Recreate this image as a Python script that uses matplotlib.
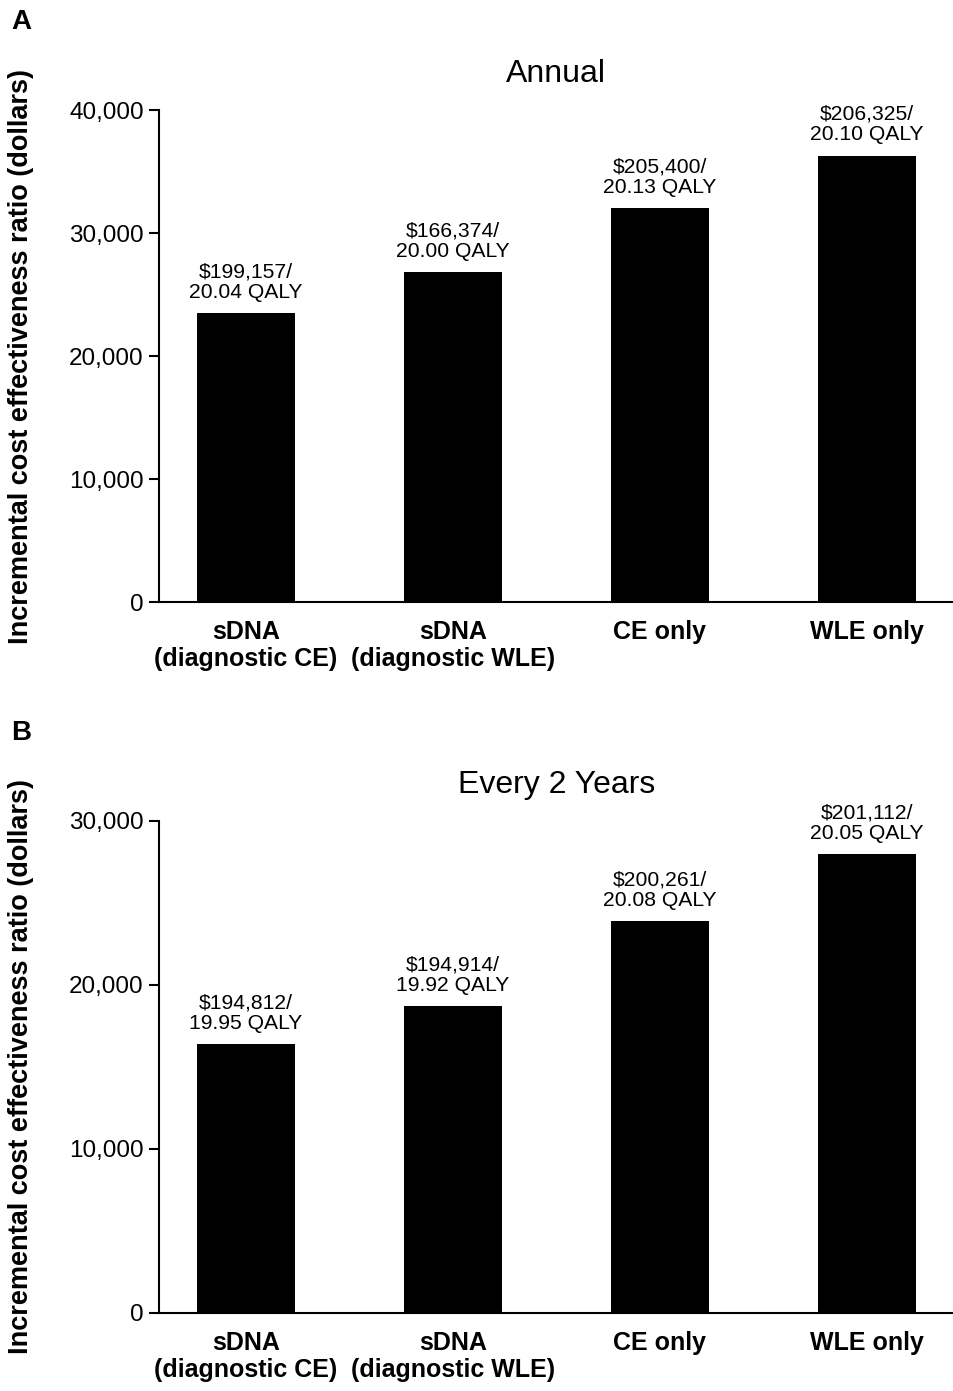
import matplotlib
matplotlib.use("Agg")
import matplotlib.pyplot as plt
from matplotlib.ticker import FuncFormatter

plt.rcParams["font.family"] = ["Liberation Sans", "DejaVu Sans"]

# data
categories = ["sDNA\n(diagnostic CE)", "sDNA\n(diagnostic WLE)", "CE only", "WLE only"]

annual_icer = [23500, 26800, 32000, 36300]
annual_labels = ["$199,157/\n20.04 QALY", "$166,374/\n20.00 QALY",
                 "$205,400/\n20.13 QALY", "$206,325/\n20.10 QALY"]

biennial_icer = [16400, 18700, 23900, 28000]
biennial_labels = ["$194,812/\n19.95 QALY", "$194,914/\n19.92 QALY",
                   "$200,261/\n20.08 QALY", "$201,112/\n20.05 QALY"]

W, H = 954, 1391
fig = plt.figure(figsize=(W / 100, H / 100), dpi=100, facecolor="white")


def panel(rect, values, labels, ymax, step, title, letter, letter_y):
    ax = fig.add_axes(rect)
    x = list(range(len(categories)))
    bars = ax.bar(x, values, width=0.475, color="black")
    for bar, lab in zip(bars, labels):
        ax.annotate(lab, (bar.get_x() + bar.get_width() / 2, bar.get_height()),
                    xytext=(0, 8), textcoords="offset points",
                    ha="center", va="bottom", fontsize=15.2, linespacing=1.1)
    ax.set_xlim(-0.42, 3.42)
    ax.set_ylim(0, ymax)
    ax.set_yticks(range(0, ymax + 1, step))
    ax.yaxis.set_major_formatter(FuncFormatter(lambda v, p: f"{int(v):,}"))
    ax.set_xticks(x)
    ax.set_xticklabels(categories, fontsize=18, fontweight="bold", linespacing=1.15)
    ax.tick_params(axis="x", length=0, pad=13)
    ax.tick_params(axis="y", length=7, width=1.5, labelsize=17.5, pad=4)
    for s in ("top", "right"):
        ax.spines[s].set_visible(False)
    for s in ("left", "bottom"):
        ax.spines[s].set_linewidth(1.5)
    ax.set_title(title, fontsize=23, pad=20)
    ax.set_ylabel("Incremental cost effectiveness ratio (dollars)",
                  fontsize=19.5, fontweight="bold")
    ax.yaxis.set_label_coords(-0.157, 0.5)
    fig.text(0.012, letter_y, letter, fontsize=20, fontweight="bold", va="center")
    return ax


panel([0.1667, 0.5672, 0.833, 0.3537], annual_icer, annual_labels,
      40000, 10000, "Annual", "A", 0.984)
panel([0.1667, 0.0561, 0.833, 0.3537], biennial_icer, biennial_labels,
      30000, 10000, "Every 2 Years", "B", 0.473)

fig.savefig("out.png", dpi=100, facecolor="white")
